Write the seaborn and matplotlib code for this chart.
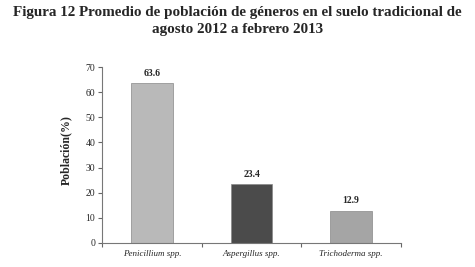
import numpy as np
import pandas as pd
import seaborn as sns
import matplotlib.pyplot as plt

generos = ["Penicillium spp.", "Aspergillus spp.", "Trichoderma spp."]
poblacion = [63.6, 23.4, 12.9]
colores = ["#b9b9b9", "#4b4b4b", "#a5a5a5"]

df = pd.DataFrame({"genero": generos, "poblacion": poblacion})

sns.set_style("white")
plt.rcParams['font.family'] = ['Liberation Serif', 'DejaVu Serif']

fig = plt.figure(figsize=(4.75, 2.67), dpi=100)
ax = fig.add_axes([0.215, 0.09, 0.629, 0.659])
sns.barplot(data=df, x="genero", y="poblacion", hue="genero", palette=colores,
            width=0.42, legend=False, ax=ax, edgecolor="#888888", linewidth=0.5)

for i, v in enumerate(poblacion):
    ax.text(i, v + 2.2, f"{v}", ha="center", va="bottom", fontsize=7, fontweight="bold")

ax.set_ylim(0, 70)
ax.set_xlim(-0.5, 2.5)
ax.set_yticks(range(0, 71, 10))
ax.set_xticks([-0.5, 0.5, 1.5, 2.5], minor=False)
ax.set_xticklabels([])
ax.set_xticks([0, 1, 2], minor=True)
ax.set_xticklabels(generos, minor=True, fontstyle="italic", fontsize=6.5)
ax.tick_params(axis="x", which="minor", length=0, pad=5)
ax.tick_params(axis="x", which="major", length=3, color="#666666", direction="out")
ax.tick_params(axis="y", length=3, color="#666666", labelsize=7, direction="out", pad=2)
ax.yaxis.set_tick_params(left=True)
ax.xaxis.set_tick_params(bottom=True)
ax.set_xlabel("")
ax.set_ylabel("Población(%)", fontsize=8.5, fontweight="bold")
ax.yaxis.set_label_coords(-0.1, 0.53)
sns.despine(ax=ax)
for s in ["left", "bottom"]:
    ax.spines[s].set_color("#777777")
    ax.spines[s].set_linewidth(0.8)

fig.suptitle("Figura 12 Promedio de población de géneros en el suelo tradicional de\nagosto 2012 a febrero 2013",
             fontsize=10.9, fontweight="bold", y=0.978, linespacing=1.4)

fig.savefig("out.png", dpi=100)
